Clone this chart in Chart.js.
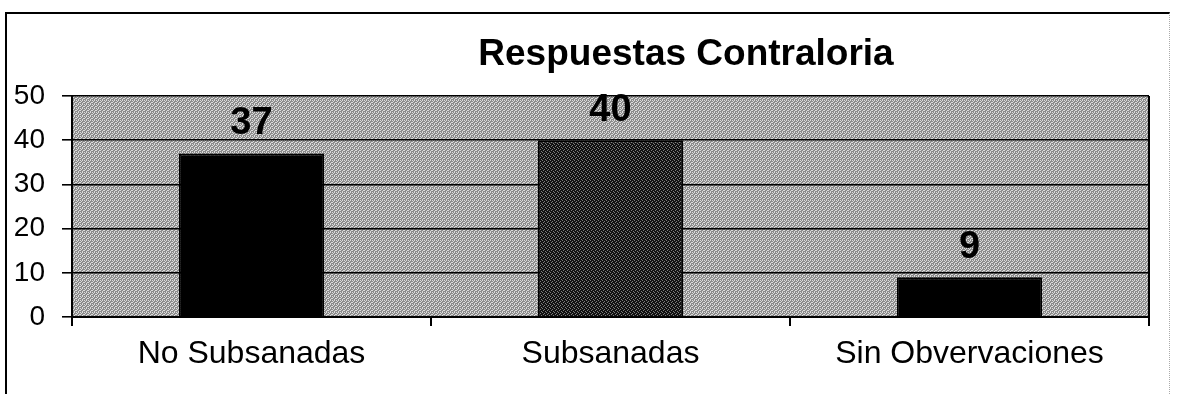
<!DOCTYPE html>
<html>
<head>
<meta charset="utf-8">
<script src="https://cdn.jsdelivr.net/npm/chart.js@4"></script>
<style>
  html, body { margin: 0; padding: 0; background: #fff; }
  #wrap { position: relative; width: 1180px; height: 394px; overflow: hidden; }
  #frame {
    position: absolute; left: 5px; top: 12px; width: 1165px; height: 400px;
    border-top: 2px solid #000; border-left: 2px solid #000; border-right: 1px dotted #aaa;
    box-sizing: border-box; pointer-events: none;
  }
  canvas { position: absolute; left: 0; top: 0; }
</style>
</head>
<body>
<div id="wrap">
  <canvas id="chart" width="1180" height="394"></canvas>
  <div id="frame"></div>
</div>
<script>
(function () {
  'use strict';

  var TITLE = 'Respuestas Contraloria';
  var categories = ['No Subsanadas', 'Subsanadas', 'Sin Obvervaciones'];
  var values = [37, 40, 9];
  var yTicks = [0, 10, 20, 30, 40, 50];

  var FONT = '"Liberation Sans", Arial, sans-serif';

  // small dither tiles to mimic the scanned halftone fill
  function ditherPattern(ctx, dark, light, map) {
    var c = document.createElement('canvas');
    c.width = 4; c.height = 4;
    var g = c.getContext('2d');
    for (var y = 0; y < 4; y++) {
      for (var x = 0; x < 4; x++) {
        g.fillStyle = map[y][x] === '1' ? dark : light;
        g.fillRect(x, y, 1, 1);
      }
    }
    return ctx.createPattern(c, 'repeat');
  }

  var canvas = document.getElementById('chart');
  var ctx = canvas.getContext('2d');
  var plotFill = ditherPattern(ctx, '#8c8c8c', '#dcdcdc', ['0101', '1011', '0110', '1101']);
  var midFill = ditherPattern(ctx, '#111', '#7c7c7c', ['1101', '0111', '1110', '1011']);

  var plotArea = {
    id: 'plotArea',
    beforeDraw: function (chart) {
      var a = chart.chartArea;
      var c = chart.ctx;
      c.save();
      c.fillStyle = plotFill;
      c.fillRect(a.left, a.top, a.right - a.left, a.bottom - a.top);
      c.restore();
    },
    afterDraw: function (chart) {
      var a = chart.chartArea;
      var c = chart.ctx;
      c.save();
      c.strokeStyle = '#000';
      c.lineWidth = 2;
      c.beginPath();
      c.moveTo(a.right, a.top);
      c.lineTo(a.right, a.bottom);
      c.stroke();
      // title
      c.fillStyle = '#000';
      c.font = 'bold 37px ' + FONT;
      c.textAlign = 'center';
      c.textBaseline = 'alphabetic';
      c.fillText(TITLE, 686, 65);
      c.restore();
    }
  };

  var barLabels = {
    id: 'barLabels',
    afterDatasetsDraw: function (chart) {
      var c = chart.ctx;
      var meta = chart.getDatasetMeta(0);
      c.save();
      c.fillStyle = '#000';
      c.font = 'bold 38px ' + FONT;
      c.textAlign = 'center';
      c.textBaseline = 'alphabetic';
      meta.data.forEach(function (bar, i) {
        c.fillText(String(values[i]), bar.x, bar.y - 19);
      });
      c.restore();
    }
  };

  new Chart(ctx, {
    type: 'bar',
    data: {
      labels: categories,
      datasets: [{
        data: values,
        backgroundColor: ['#000', midFill, '#000'],
        borderColor: '#000',
        borderWidth: 2,
        categoryPercentage: 1,
        barPercentage: 0.405
      }]
    },
    options: {
      responsive: false,
      animation: false,
      events: [],
      layout: { padding: { left: 0, right: 31, top: 96, bottom: 0 } },
      plugins: {
        legend: { display: false },
        title: { display: false },
        tooltip: { enabled: false }
      },
      scales: {
        x: {
          offset: true,
          grid: { offset: true, drawOnChartArea: false, drawTicks: true, tickLength: 9, color: '#000', lineWidth: 2 },
          border: { color: '#000', width: 2 },
          ticks: { color: '#000', padding: 9, font: { family: FONT, size: 32 }, maxRotation: 0 },
          afterFit: function (scale) { scale.height = 77; }
        },
        y: {
          min: 0,
          max: 50,
          afterBuildTicks: function (scale) {
            scale.ticks = yTicks.map(function (v) { return { value: v }; });
          },
          grid: { color: '#000', lineWidth: 1.6, tickLength: 10 },
          border: { color: '#000', width: 2 },
          ticks: { color: '#000', padding: 17, font: { family: FONT, size: 28 } },
          afterFit: function (scale) { scale.width = 72; }
        }
      }
    },
    plugins: [plotArea, barLabels]
  });
})();
</script>
</body>
</html>
